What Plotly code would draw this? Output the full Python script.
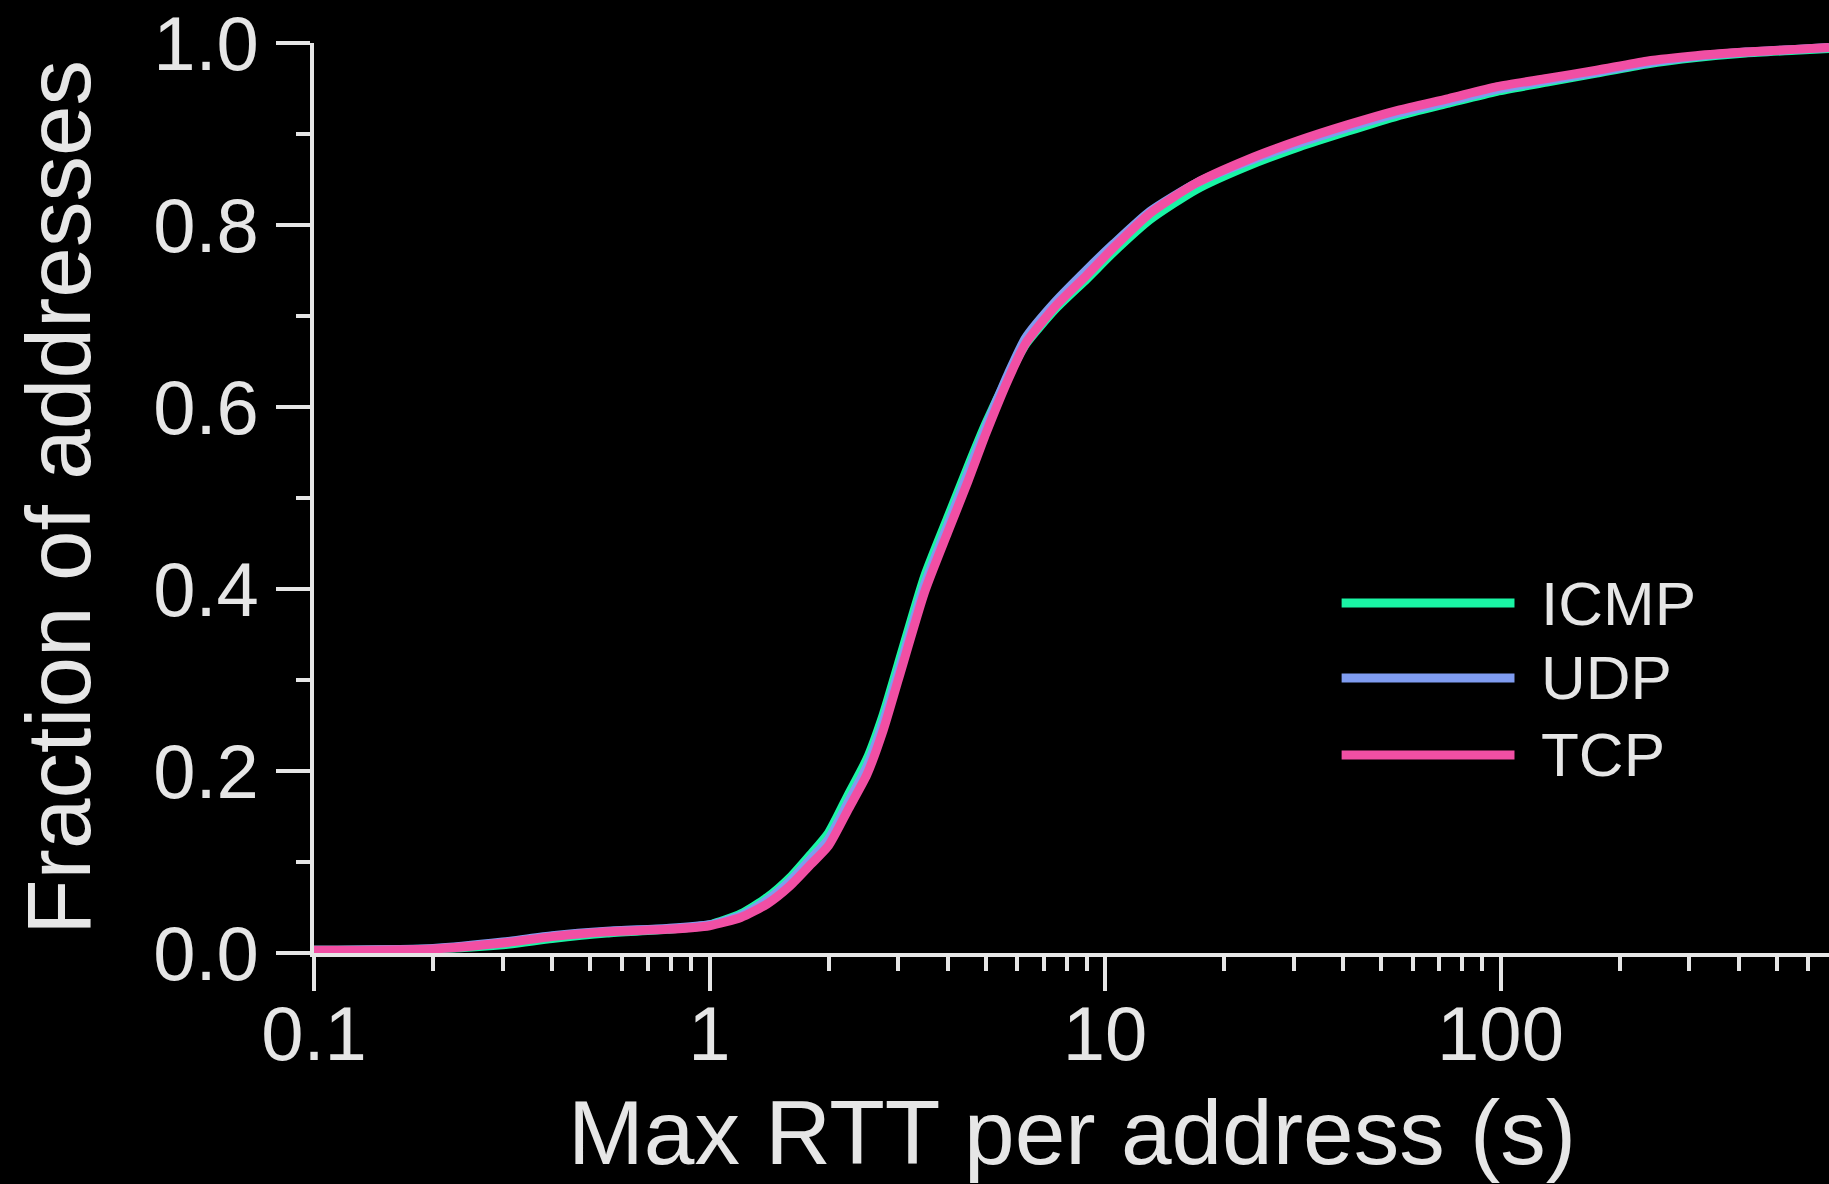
import plotly.graph_objects as go

# Max RTT per address (seconds) at which the cumulative fractions are sampled
rtt_s = [0.1, 0.2, 0.3, 0.4, 0.55, 0.78, 1.0, 1.2, 1.4, 1.6, 1.8, 2.0, 2.25, 2.5,
         2.75, 3.0, 3.5, 4.0, 4.5, 5.0, 5.7, 6.3, 7.5, 9.0, 10.5, 13, 17, 23, 31,
         41, 55, 74, 98, 131, 175, 234, 312, 417, 556, 677]

# Cumulative fraction of addresses per probe protocol
icmp_frac = [0.003, 0.0045, 0.009, 0.016, 0.022, 0.026, 0.031, 0.043, 0.061, 0.083,
             0.108, 0.132, 0.175, 0.213, 0.262, 0.317, 0.414, 0.478, 0.534, 0.582,
             0.634, 0.669, 0.708, 0.741, 0.770, 0.806, 0.839, 0.865, 0.886, 0.903,
             0.920, 0.934, 0.947, 0.957, 0.967, 0.977, 0.984, 0.989, 0.992, 0.994]
udp_frac = [0.003, 0.005, 0.012, 0.019, 0.024, 0.027, 0.031, 0.041, 0.058, 0.079,
            0.103, 0.125, 0.167, 0.205, 0.254, 0.308, 0.405, 0.470, 0.527, 0.578,
            0.637, 0.676, 0.716, 0.751, 0.779, 0.815, 0.846, 0.870, 0.890, 0.907,
            0.923, 0.936, 0.949, 0.959, 0.968, 0.978, 0.985, 0.990, 0.993, 0.995]
tcp_frac = [0.003, 0.0045, 0.011, 0.018, 0.0234, 0.026, 0.030, 0.039, 0.054, 0.074,
            0.097, 0.118, 0.159, 0.196, 0.245, 0.300, 0.397, 0.462, 0.518, 0.571,
            0.631, 0.670, 0.711, 0.745, 0.775, 0.813, 0.846, 0.872, 0.893, 0.910,
            0.926, 0.939, 0.952, 0.961, 0.970, 0.980, 0.986, 0.990, 0.993, 0.995]

series_names = ["ICMP", "UDP", "TCP"]
series_colors = ["#1af5a5", "#7f9cf0", "#f14fa4"]

x_tick_vals = [0.1, 1, 10, 100]
x_tick_text = ["0.1", "1", "10", "100"]
x_minor_vals = [m * d for d in (0.1, 1, 10, 100) for m in range(2, 10) if m * d < 677]
y_tick_vals = [0.0, 0.2, 0.4, 0.6, 0.8, 1.0]

FG = "#e6e6e6"
FONT = "Liberation Sans, Arial, Helvetica, sans-serif"

fig = go.Figure()
for name, ys, color in zip(series_names, [icmp_frac, udp_frac, tcp_frac], series_colors):
    fig.add_trace(go.Scatter(
        x=rtt_s, y=ys, mode="lines", name=name,
        line=dict(color=color, width=9, shape="spline", smoothing=0.6),
        showlegend=False,
    ))

# Hand-placed legend: long coloured strokes with labels to their right
legend_y = [0.3846, 0.3022, 0.2176]
for name, color, ly in zip(series_names, series_colors, legend_y):
    fig.add_shape(type="line", xref="paper", yref="paper",
                  x0=0.6783, x1=0.7924, y0=ly, y1=ly,
                  line=dict(color=color, width=9))
    fig.add_annotation(xref="paper", yref="paper", x=0.8085, y=ly,
                       text=name, showarrow=False, xanchor="left", yanchor="middle",
                       font=dict(family=FONT, size=62, color=FG))

# Axis titles
fig.add_annotation(xref="paper", yref="paper", x=0.5, y=0, yshift=-179,
                   text="Max RTT per address (s)", showarrow=False,
                   xanchor="center", yanchor="middle",
                   font=dict(family=FONT, size=91, color=FG))
fig.add_annotation(xref="paper", yref="paper", x=0, y=0.5, xshift=-256,
                   text="Fraction of addresses", showarrow=False, textangle=-90,
                   xanchor="center", yanchor="middle",
                   font=dict(family=FONT, size=91, color=FG))

fig.update_xaxes(
    type="log", range=[-1, 2.8306],
    tickmode="array", tickvals=x_tick_vals, ticktext=x_tick_text,
    ticks="outside", ticklen=34, tickwidth=4, tickcolor=FG,
    minor=dict(tickmode="array", tickvals=x_minor_vals, ticks="outside",
               ticklen=14, tickwidth=4, tickcolor=FG, showgrid=False),
    showline=True, linewidth=4, linecolor=FG,
    showgrid=False, zeroline=False, ticklabelstandoff=-22,
    tickfont=dict(family=FONT, size=76, color=FG),
)
fig.update_yaxes(
    range=[0, 1], tickmode="array", tickvals=y_tick_vals, tickformat=".1f",
    ticks="outside", ticklen=34, tickwidth=4, tickcolor=FG,
    minor=dict(dtick=0.1, tick0=0, ticks="outside",
               ticklen=14, tickwidth=4, tickcolor=FG, showgrid=False),
    showline=True, linewidth=4, linecolor=FG,
    showgrid=False, zeroline=False, ticklabelstandoff=2,
    tickfont=dict(family=FONT, size=76, color=FG),
)

fig.update_layout(
    width=1829, height=1184,
    margin=dict(l=314, r=0, t=43, b=231, pad=0),
    paper_bgcolor="black", plot_bgcolor="black",
    font=dict(family=FONT, color=FG),
    showlegend=False,
)

fig.write_html("out.html", config={"displayModeBar": False})
